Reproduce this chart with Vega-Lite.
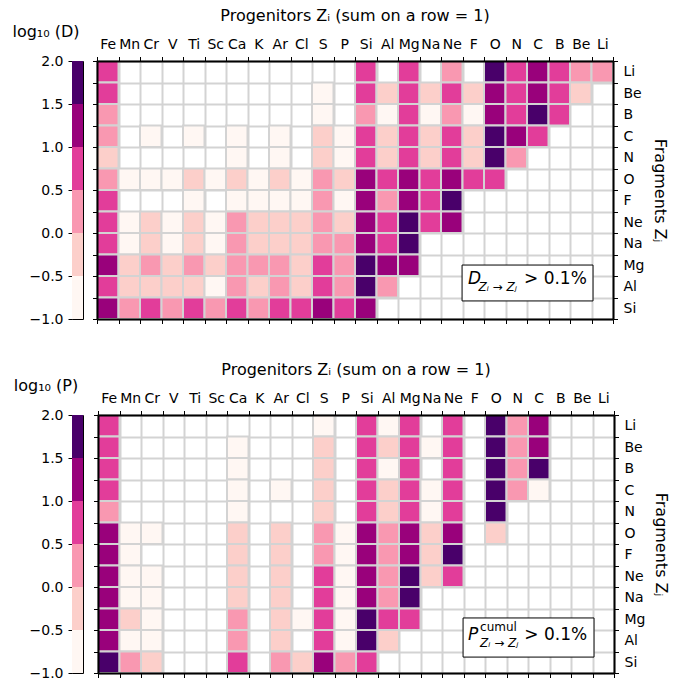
{
"$schema": "https://vega.github.io/schema/vega-lite/v6.json",
"padding": {"left": 11, "top": 7, "right": 5, "bottom": 5},
"datasets": {
"bins": [{"lo":-1,"hi":-0.5},{"lo":-0.5,"hi":0},{"lo":0,"hi":0.5},{"lo":0.5,"hi":1},{"lo":1,"hi":1.5},{"lo":1.5,"hi":2}],
"D": [
{"f":"Li","p":"Fe","v":0.75},{"f":"Li","p":"Si","v":0.75},{"f":"Li","p":"Mg","v":0.75},{"f":"Li","p":"Ne","v":0.25},{"f":"Li","p":"O","v":1.75},{"f":"Li","p":"N","v":0.75},{"f":"Li","p":"C","v":1.25},{"f":"Li","p":"B","v":0.75},{"f":"Li","p":"Be","v":0.25},{"f":"Li","p":"Li","v":0.25},
{"f":"Be","p":"Fe","v":0.75},{"f":"Be","p":"S","v":-0.75},{"f":"Be","p":"Si","v":0.75},{"f":"Be","p":"Al","v":-0.25},{"f":"Be","p":"Mg","v":0.75},{"f":"Be","p":"Na","v":-0.25},{"f":"Be","p":"Ne","v":0.75},{"f":"Be","p":"F","v":-0.25},{"f":"Be","p":"O","v":1.25},{"f":"Be","p":"N","v":0.75},{"f":"Be","p":"C","v":1.25},{"f":"Be","p":"B","v":0.75},{"f":"Be","p":"Be","v":-0.25},
{"f":"B","p":"Fe","v":0.25},{"f":"B","p":"S","v":-0.75},{"f":"B","p":"Si","v":0.25},{"f":"B","p":"Al","v":-0.75},{"f":"B","p":"Mg","v":0.75},{"f":"B","p":"Na","v":-0.75},{"f":"B","p":"Ne","v":0.25},{"f":"B","p":"F","v":-0.75},{"f":"B","p":"O","v":1.25},{"f":"B","p":"N","v":0.75},{"f":"B","p":"C","v":1.75},{"f":"B","p":"B","v":0.75},
{"f":"C","p":"Fe","v":0.25},{"f":"C","p":"Cr","v":-0.75},{"f":"C","p":"Ti","v":-0.75},{"f":"C","p":"Ca","v":-0.75},{"f":"C","p":"Ar","v":-0.75},{"f":"C","p":"S","v":-0.25},{"f":"C","p":"P","v":-0.75},{"f":"C","p":"Si","v":0.75},{"f":"C","p":"Al","v":-0.25},{"f":"C","p":"Mg","v":0.75},{"f":"C","p":"Na","v":-0.25},{"f":"C","p":"Ne","v":0.75},{"f":"C","p":"F","v":-0.25},{"f":"C","p":"O","v":1.75},{"f":"C","p":"N","v":1.25},{"f":"C","p":"C","v":0.75},
{"f":"N","p":"Fe","v":-0.25},{"f":"N","p":"Ca","v":-0.75},{"f":"N","p":"Ar","v":-0.75},{"f":"N","p":"S","v":-0.25},{"f":"N","p":"P","v":-0.75},{"f":"N","p":"Si","v":0.75},{"f":"N","p":"Al","v":-0.25},{"f":"N","p":"Mg","v":0.75},{"f":"N","p":"Na","v":-0.25},{"f":"N","p":"Ne","v":0.75},{"f":"N","p":"F","v":-0.25},{"f":"N","p":"O","v":1.75},{"f":"N","p":"N","v":0.25},
{"f":"O","p":"Fe","v":0.25},{"f":"O","p":"Mn","v":-0.75},{"f":"O","p":"Cr","v":-0.75},{"f":"O","p":"V","v":-0.75},{"f":"O","p":"Ti","v":-0.25},{"f":"O","p":"Sc","v":-0.75},{"f":"O","p":"Ca","v":-0.25},{"f":"O","p":"K","v":-0.75},{"f":"O","p":"Ar","v":-0.25},{"f":"O","p":"Cl","v":-0.75},{"f":"O","p":"S","v":0.25},{"f":"O","p":"P","v":-0.25},{"f":"O","p":"Si","v":1.25},{"f":"O","p":"Al","v":0.75},{"f":"O","p":"Mg","v":1.25},{"f":"O","p":"Na","v":0.75},{"f":"O","p":"Ne","v":1.25},{"f":"O","p":"F","v":0.75},{"f":"O","p":"O","v":0.75},
{"f":"F","p":"Fe","v":0.75},{"f":"F","p":"Ti","v":-0.75},{"f":"F","p":"Ca","v":-0.75},{"f":"F","p":"K","v":-0.75},{"f":"F","p":"Ar","v":-0.75},{"f":"F","p":"Cl","v":-0.75},{"f":"F","p":"S","v":0.25},{"f":"F","p":"P","v":-0.75},{"f":"F","p":"Si","v":1.25},{"f":"F","p":"Al","v":0.25},{"f":"F","p":"Mg","v":1.25},{"f":"F","p":"Na","v":0.75},{"f":"F","p":"Ne","v":1.75},
{"f":"Ne","p":"Fe","v":0.75},{"f":"Ne","p":"Mn","v":-0.75},{"f":"Ne","p":"Cr","v":-0.25},{"f":"Ne","p":"V","v":-0.75},{"f":"Ne","p":"Ti","v":-0.25},{"f":"Ne","p":"Sc","v":-0.75},{"f":"Ne","p":"Ca","v":0.25},{"f":"Ne","p":"K","v":-0.25},{"f":"Ne","p":"Ar","v":-0.25},{"f":"Ne","p":"Cl","v":-0.25},{"f":"Ne","p":"S","v":0.25},{"f":"Ne","p":"P","v":-0.25},{"f":"Ne","p":"Si","v":1.25},{"f":"Ne","p":"Al","v":0.75},{"f":"Ne","p":"Mg","v":1.75},{"f":"Ne","p":"Na","v":0.75},{"f":"Ne","p":"Ne","v":1.25},
{"f":"Na","p":"Fe","v":0.75},{"f":"Na","p":"Mn","v":-0.75},{"f":"Na","p":"Cr","v":-0.25},{"f":"Na","p":"V","v":-0.75},{"f":"Na","p":"Ti","v":-0.25},{"f":"Na","p":"Sc","v":-0.75},{"f":"Na","p":"Ca","v":0.25},{"f":"Na","p":"K","v":-0.25},{"f":"Na","p":"Ar","v":-0.25},{"f":"Na","p":"Cl","v":-0.25},{"f":"Na","p":"S","v":0.25},{"f":"Na","p":"P","v":0.25},{"f":"Na","p":"Si","v":1.25},{"f":"Na","p":"Al","v":0.75},{"f":"Na","p":"Mg","v":1.75},
{"f":"Mg","p":"Fe","v":1.25},{"f":"Mg","p":"Mn","v":-0.25},{"f":"Mg","p":"Cr","v":0.25},{"f":"Mg","p":"V","v":-0.25},{"f":"Mg","p":"Ti","v":0.25},{"f":"Mg","p":"Sc","v":-0.25},{"f":"Mg","p":"Ca","v":0.25},{"f":"Mg","p":"K","v":0.25},{"f":"Mg","p":"Ar","v":0.25},{"f":"Mg","p":"Cl","v":-0.25},{"f":"Mg","p":"S","v":0.75},{"f":"Mg","p":"P","v":0.25},{"f":"Mg","p":"Si","v":1.75},{"f":"Mg","p":"Al","v":1.25},{"f":"Mg","p":"Mg","v":1.25},
{"f":"Al","p":"Fe","v":0.75},{"f":"Al","p":"Mn","v":-0.25},{"f":"Al","p":"Cr","v":-0.25},{"f":"Al","p":"V","v":-0.25},{"f":"Al","p":"Ti","v":-0.25},{"f":"Al","p":"Sc","v":-0.75},{"f":"Al","p":"Ca","v":0.25},{"f":"Al","p":"K","v":-0.25},{"f":"Al","p":"Ar","v":0.25},{"f":"Al","p":"Cl","v":-0.25},{"f":"Al","p":"S","v":0.75},{"f":"Al","p":"P","v":0.25},{"f":"Al","p":"Si","v":1.75},{"f":"Al","p":"Al","v":0.25},
{"f":"Si","p":"Fe","v":1.25},{"f":"Si","p":"Mn","v":0.25},{"f":"Si","p":"Cr","v":0.75},{"f":"Si","p":"V","v":0.25},{"f":"Si","p":"Ti","v":0.75},{"f":"Si","p":"Sc","v":0.25},{"f":"Si","p":"Ca","v":0.75},{"f":"Si","p":"K","v":0.25},{"f":"Si","p":"Ar","v":0.75},{"f":"Si","p":"Cl","v":0.75},{"f":"Si","p":"S","v":1.25},{"f":"Si","p":"P","v":0.75},{"f":"Si","p":"Si","v":1.25}
],
"P": [
{"f":"Li","p":"Fe","v":0.75},{"f":"Li","p":"S","v":-0.75},{"f":"Li","p":"Si","v":0.75},{"f":"Li","p":"Al","v":-0.75},{"f":"Li","p":"Mg","v":0.75},{"f":"Li","p":"Ne","v":0.75},{"f":"Li","p":"O","v":1.75},{"f":"Li","p":"N","v":0.25},{"f":"Li","p":"C","v":1.25},
{"f":"Be","p":"Fe","v":0.75},{"f":"Be","p":"Ca","v":-0.75},{"f":"Be","p":"S","v":-0.25},{"f":"Be","p":"Si","v":0.75},{"f":"Be","p":"Al","v":-0.25},{"f":"Be","p":"Mg","v":0.75},{"f":"Be","p":"Na","v":-0.75},{"f":"Be","p":"Ne","v":0.75},{"f":"Be","p":"O","v":1.75},{"f":"Be","p":"N","v":0.25},{"f":"Be","p":"C","v":1.25},
{"f":"B","p":"Fe","v":0.75},{"f":"B","p":"Ca","v":-0.75},{"f":"B","p":"S","v":-0.25},{"f":"B","p":"Si","v":0.75},{"f":"B","p":"Al","v":-0.75},{"f":"B","p":"Mg","v":0.75},{"f":"B","p":"Ne","v":0.75},{"f":"B","p":"O","v":1.75},{"f":"B","p":"N","v":0.25},{"f":"B","p":"C","v":1.75},
{"f":"C","p":"Fe","v":0.75},{"f":"C","p":"Ca","v":-0.75},{"f":"C","p":"Ar","v":-0.75},{"f":"C","p":"S","v":-0.25},{"f":"C","p":"Si","v":0.75},{"f":"C","p":"Al","v":-0.25},{"f":"C","p":"Mg","v":0.75},{"f":"C","p":"Na","v":-0.75},{"f":"C","p":"Ne","v":0.75},{"f":"C","p":"O","v":1.75},{"f":"C","p":"N","v":0.25},{"f":"C","p":"C","v":-0.75},
{"f":"N","p":"Fe","v":0.25},{"f":"N","p":"Ca","v":-0.75},{"f":"N","p":"S","v":-0.25},{"f":"N","p":"Si","v":0.75},{"f":"N","p":"Al","v":-0.25},{"f":"N","p":"Mg","v":0.75},{"f":"N","p":"Na","v":-0.75},{"f":"N","p":"Ne","v":0.75},{"f":"N","p":"O","v":1.75},
{"f":"O","p":"Fe","v":1.25},{"f":"O","p":"Mn","v":-0.75},{"f":"O","p":"Cr","v":-0.75},{"f":"O","p":"Ca","v":-0.25},{"f":"O","p":"Ar","v":-0.25},{"f":"O","p":"S","v":0.25},{"f":"O","p":"P","v":-0.75},{"f":"O","p":"Si","v":1.25},{"f":"O","p":"Al","v":0.25},{"f":"O","p":"Mg","v":1.25},{"f":"O","p":"Na","v":-0.25},{"f":"O","p":"Ne","v":1.25},{"f":"O","p":"O","v":-0.25},
{"f":"F","p":"Fe","v":1.25},{"f":"F","p":"Mn","v":-0.75},{"f":"F","p":"Ca","v":-0.25},{"f":"F","p":"Ar","v":-0.25},{"f":"F","p":"S","v":0.25},{"f":"F","p":"P","v":-0.75},{"f":"F","p":"Si","v":1.25},{"f":"F","p":"Al","v":0.25},{"f":"F","p":"Mg","v":1.25},{"f":"F","p":"Na","v":-0.25},{"f":"F","p":"Ne","v":1.75},
{"f":"Ne","p":"Fe","v":1.25},{"f":"Ne","p":"Mn","v":-0.75},{"f":"Ne","p":"Cr","v":-0.75},{"f":"Ne","p":"Ca","v":-0.25},{"f":"Ne","p":"Ar","v":-0.25},{"f":"Ne","p":"S","v":0.75},{"f":"Ne","p":"P","v":-0.75},{"f":"Ne","p":"Si","v":1.25},{"f":"Ne","p":"Al","v":0.25},{"f":"Ne","p":"Mg","v":1.75},{"f":"Ne","p":"Na","v":-0.25},{"f":"Ne","p":"Ne","v":0.75},
{"f":"Na","p":"Fe","v":1.25},{"f":"Na","p":"Mn","v":-0.75},{"f":"Na","p":"Cr","v":-0.75},{"f":"Na","p":"Ca","v":-0.25},{"f":"Na","p":"Ar","v":-0.25},{"f":"Na","p":"S","v":0.75},{"f":"Na","p":"P","v":-0.75},{"f":"Na","p":"Si","v":1.25},{"f":"Na","p":"Al","v":0.25},{"f":"Na","p":"Mg","v":1.75},
{"f":"Mg","p":"Fe","v":1.25},{"f":"Mg","p":"Mn","v":-0.25},{"f":"Mg","p":"Cr","v":-0.75},{"f":"Mg","p":"Ca","v":0.25},{"f":"Mg","p":"Ar","v":-0.25},{"f":"Mg","p":"Cl","v":-0.75},{"f":"Mg","p":"S","v":0.75},{"f":"Mg","p":"P","v":-0.75},{"f":"Mg","p":"Si","v":1.75},{"f":"Mg","p":"Al","v":0.75},{"f":"Mg","p":"Mg","v":0.75},
{"f":"Al","p":"Fe","v":1.25},{"f":"Al","p":"Mn","v":-0.75},{"f":"Al","p":"Cr","v":-0.75},{"f":"Al","p":"Ca","v":0.25},{"f":"Al","p":"Ar","v":-0.25},{"f":"Al","p":"S","v":0.75},{"f":"Al","p":"P","v":-0.75},{"f":"Al","p":"Si","v":1.75},{"f":"Al","p":"Al","v":-0.25},
{"f":"Si","p":"Fe","v":1.75},{"f":"Si","p":"Mn","v":0.25},{"f":"Si","p":"Cr","v":-0.25},{"f":"Si","p":"Ca","v":0.75},{"f":"Si","p":"Ar","v":0.25},{"f":"Si","p":"Cl","v":-0.25},{"f":"Si","p":"S","v":1.25},{"f":"Si","p":"P","v":0.25},{"f":"Si","p":"Si","v":0.75}
]
},
"vconcat": [
{
"bounds": "flush",
"spacing": 14,
"hconcat": [
{
"width": 11, "height": 258,
"title": {"text": "log₁₀ (D)", "fontSize": 16, "frame": "bounds", "anchor": "middle", "offset": 14, "dx": -10},
"data": {"name": "bins"},
"mark": {"type": "rect"},
"encoding": {
"y": {"field": "lo", "type": "quantitative", "scale": {"domain": [-1, 2], "nice": false, "zero": false}, "axis": {"values": [-1, -0.5, 0, 0.5, 1, 1.5, 2], "format": ".1f", "title": null, "grid": false, "domain": false, "tickSize": 4, "labelPadding": 5, "labelFlush": false, "labelOverlap": false}},
"y2": {"field": "hi"},
"color": {"field": "lo", "type": "quantitative", "scale": {"type": "threshold", "domain": [-0.5, 0, 0.5, 1, 1.5], "range": ["#fff7f3", "#fccfca", "#f998b1", "#e23d9a", "#99017b", "#49006a"]}, "legend": null}
}
},
{
"width": 516, "height": 258,
"title": {"text": "Progenitors Zᵢ (sum on a row = 1)", "fontSize": 16, "frame": "group", "anchor": "middle", "offset": 13},
"resolve": {"scale": {"x": "independent", "y": "independent"}, "axis": {"x": "independent", "y": "independent"}},
"layer": [
{
"data": {"name": "D"},
"mark": {"type": "rect", "stroke": "#d3d3d3", "strokeWidth": 2},
"encoding": {
"x": {"field": "p", "type": "nominal", "scale": {"domain": ["Fe","Mn","Cr","V","Ti","Sc","Ca","K","Ar","Cl","S","P","Si","Al","Mg","Na","Ne","F","O","N","C","B","Be","Li"], "paddingInner": 0, "paddingOuter": 0}, "axis": {"orient": "top", "title": null, "labelAngle": 0, "labelOverlap": false, "labelBound": false, "tickBand": "extent", "tickSize": 4.5, "labelPadding": 5.5, "grid": false, "domain": true, "zindex": 1}},
"y": {"field": "f", "type": "nominal", "scale": {"domain": ["Li","Be","B","C","N","O","F","Ne","Na","Mg","Al","Si"], "paddingInner": 0, "paddingOuter": 0}, "axis": {"orient": "right", "title": "Fragments Zⱼ", "titleFontSize": 16, "titlePadding": 8, "labelOverlap": false, "labelBound": false, "tickBand": "extent", "tickSize": 4.5, "labelPadding": 5.5, "grid": false, "domain": true, "zindex": 1}},
"color": {"field": "v", "type": "quantitative", "scale": {"type": "threshold", "domain": [-0.5, 0, 0.5, 1, 1.5], "range": ["#fff7f3", "#fccfca", "#f998b1", "#e23d9a", "#99017b", "#49006a"]}, "legend": null}
}
},
{
"data": {"name": "D"},
"mark": {"type": "rect", "opacity": 0},
"encoding": {
"x": {"field": "p", "type": "nominal", "scale": {"domain": ["Fe","Mn","Cr","V","Ti","Sc","Ca","K","Ar","Cl","S","P","Si","Al","Mg","Na","Ne","F","O","N","C","B","Be","Li"], "paddingInner": 0, "paddingOuter": 0}, "axis": {"orient": "bottom", "title": null, "labels": false, "tickBand": "extent", "tickSize": 4.5, "grid": false, "domain": true, "zindex": 1}},
"y": {"field": "f", "type": "nominal", "scale": {"domain": ["Li","Be","B","C","N","O","F","Ne","Na","Mg","Al","Si"], "paddingInner": 0, "paddingOuter": 0}, "axis": {"orient": "left", "title": null, "labels": false, "tickBand": "extent", "tickSize": 4.5, "grid": false, "domain": true, "zindex": 1}}
}
},
{
"data": {"name": "D"},
"mark": {"type": "rect", "opacity": 0},
"encoding": {
"x": {"field": "p", "type": "nominal", "scale": {"domain": ["Fe","Mn","Cr","V","Ti","Sc","Ca","K","Ar","Cl","S","P","Si","Al","Mg","Na","Ne","F","O","N","C","B","Be","Li"], "paddingInner": 0, "paddingOuter": 0}, "axis": {"orient": "bottom", "title": null, "labels": false, "ticks": false, "domain": false, "tickBand": "extent", "grid": true, "gridColor": "#d3d3d3", "gridWidth": 2, "zindex": 0}},
"y": {"field": "f", "type": "nominal", "scale": {"domain": ["Li","Be","B","C","N","O","F","Ne","Na","Mg","Al","Si"], "paddingInner": 0, "paddingOuter": 0}, "axis": {"orient": "left", "title": null, "labels": false, "ticks": false, "domain": false, "tickBand": "extent", "grid": true, "gridColor": "#d3d3d3", "gridWidth": 2, "zindex": 0}}
}
},
{
"data": {"values": [{}]},
"layer": [
{"mark": {"type": "rect", "fill": "#ffffff", "stroke": "#000000", "strokeWidth": 1},
 "encoding": {"x": {"datum": 16.98, "type": "quantitative", "scale": {"domain": [0, 24], "nice": false, "zero": false}, "axis": null}, "x2": {"datum": 23.07}, "y": {"datum": 9.49, "type": "quantitative", "scale": {"domain": [0, 12], "reverse": true, "nice": false, "zero": false}, "axis": null}, "y2": {"datum": 11.16}}},
{"mark": {"type": "text", "text": "D", "fontSize": 17, "fontStyle": "italic", "align": "left", "baseline": "alphabetic"},
 "encoding": {"x": {"datum": 17.26, "type": "quantitative"}, "y": {"datum": 10.37, "type": "quantitative"}}},
{"mark": {"type": "text", "text": "Zᵢ → Zⱼ", "fontSize": 12, "fontStyle": "italic", "align": "left", "baseline": "alphabetic"},
 "encoding": {"x": {"datum": 17.74, "type": "quantitative"}, "y": {"datum": 10.7, "type": "quantitative"}}},
{"mark": {"type": "text", "text": "> 0.1%", "fontSize": 17, "align": "left", "baseline": "alphabetic"},
 "encoding": {"x": {"datum": 19.86, "type": "quantitative"}, "y": {"datum": 10.37, "type": "quantitative"}}}
]
}
]
}
]
},
{
"bounds": "flush",
"spacing": 15,
"hconcat": [
{
"width": 11, "height": 258,
"title": {"text": "log₁₀ (P)", "fontSize": 16, "frame": "bounds", "anchor": "middle", "offset": 14, "dx": -10},
"data": {"name": "bins"},
"mark": {"type": "rect"},
"encoding": {
"y": {"field": "lo", "type": "quantitative", "scale": {"domain": [-1, 2], "nice": false, "zero": false}, "axis": {"values": [-1, -0.5, 0, 0.5, 1, 1.5, 2], "format": ".1f", "title": null, "grid": false, "domain": false, "tickSize": 4, "labelPadding": 5, "labelFlush": false, "labelOverlap": false}},
"y2": {"field": "hi"},
"color": {"field": "lo", "type": "quantitative", "scale": {"type": "threshold", "domain": [-0.5, 0, 0.5, 1, 1.5], "range": ["#fff7f3", "#fccfca", "#f998b1", "#e23d9a", "#99017b", "#49006a"]}, "legend": null}
}
},
{
"width": 516, "height": 258,
"title": {"text": "Progenitors Zᵢ (sum on a row = 1)", "fontSize": 16, "frame": "group", "anchor": "middle", "offset": 13},
"resolve": {"scale": {"x": "independent", "y": "independent"}, "axis": {"x": "independent", "y": "independent"}},
"layer": [
{
"data": {"name": "P"},
"mark": {"type": "rect", "stroke": "#d3d3d3", "strokeWidth": 2},
"encoding": {
"x": {"field": "p", "type": "nominal", "scale": {"domain": ["Fe","Mn","Cr","V","Ti","Sc","Ca","K","Ar","Cl","S","P","Si","Al","Mg","Na","Ne","F","O","N","C","B","Be","Li"], "paddingInner": 0, "paddingOuter": 0}, "axis": {"orient": "top", "title": null, "labelAngle": 0, "labelOverlap": false, "labelBound": false, "tickBand": "extent", "tickSize": 4.5, "labelPadding": 5.5, "grid": false, "domain": true, "zindex": 1}},
"y": {"field": "f", "type": "nominal", "scale": {"domain": ["Li","Be","B","C","N","O","F","Ne","Na","Mg","Al","Si"], "paddingInner": 0, "paddingOuter": 0}, "axis": {"orient": "right", "title": "Fragments Zⱼ", "titleFontSize": 16, "titlePadding": 8, "labelOverlap": false, "labelBound": false, "tickBand": "extent", "tickSize": 4.5, "labelPadding": 5.5, "grid": false, "domain": true, "zindex": 1}},
"color": {"field": "v", "type": "quantitative", "scale": {"type": "threshold", "domain": [-0.5, 0, 0.5, 1, 1.5], "range": ["#fff7f3", "#fccfca", "#f998b1", "#e23d9a", "#99017b", "#49006a"]}, "legend": null}
}
},
{
"data": {"name": "P"},
"mark": {"type": "rect", "opacity": 0},
"encoding": {
"x": {"field": "p", "type": "nominal", "scale": {"domain": ["Fe","Mn","Cr","V","Ti","Sc","Ca","K","Ar","Cl","S","P","Si","Al","Mg","Na","Ne","F","O","N","C","B","Be","Li"], "paddingInner": 0, "paddingOuter": 0}, "axis": {"orient": "bottom", "title": null, "labels": false, "tickBand": "extent", "tickSize": 4.5, "grid": false, "domain": true, "zindex": 1}},
"y": {"field": "f", "type": "nominal", "scale": {"domain": ["Li","Be","B","C","N","O","F","Ne","Na","Mg","Al","Si"], "paddingInner": 0, "paddingOuter": 0}, "axis": {"orient": "left", "title": null, "labels": false, "tickBand": "extent", "tickSize": 4.5, "grid": false, "domain": true, "zindex": 1}}
}
},
{
"data": {"name": "P"},
"mark": {"type": "rect", "opacity": 0},
"encoding": {
"x": {"field": "p", "type": "nominal", "scale": {"domain": ["Fe","Mn","Cr","V","Ti","Sc","Ca","K","Ar","Cl","S","P","Si","Al","Mg","Na","Ne","F","O","N","C","B","Be","Li"], "paddingInner": 0, "paddingOuter": 0}, "axis": {"orient": "bottom", "title": null, "labels": false, "ticks": false, "domain": false, "tickBand": "extent", "grid": true, "gridColor": "#d3d3d3", "gridWidth": 2, "zindex": 0}},
"y": {"field": "f", "type": "nominal", "scale": {"domain": ["Li","Be","B","C","N","O","F","Ne","Na","Mg","Al","Si"], "paddingInner": 0, "paddingOuter": 0}, "axis": {"orient": "left", "title": null, "labels": false, "ticks": false, "domain": false, "tickBand": "extent", "grid": true, "gridColor": "#d3d3d3", "gridWidth": 2, "zindex": 0}}
}
},
{
"data": {"values": [{}]},
"layer": [
{"mark": {"type": "rect", "fill": "#ffffff", "stroke": "#000000", "strokeWidth": 1},
 "encoding": {"x": {"datum": 16.98, "type": "quantitative", "scale": {"domain": [0, 24], "nice": false, "zero": false}, "axis": null}, "x2": {"datum": 23.07}, "y": {"datum": 9.44, "type": "quantitative", "scale": {"domain": [0, 12], "reverse": true, "nice": false, "zero": false}, "axis": null}, "y2": {"datum": 11.26}}},
{"mark": {"type": "text", "text": "P", "fontSize": 17, "fontStyle": "italic", "align": "left", "baseline": "alphabetic"},
 "encoding": {"x": {"datum": 17.21, "type": "quantitative"}, "y": {"datum": 10.47, "type": "quantitative"}}},
{"mark": {"type": "text", "text": "cumul", "fontSize": 12, "align": "left", "baseline": "alphabetic"},
 "encoding": {"x": {"datum": 17.77, "type": "quantitative"}, "y": {"datum": 10.05, "type": "quantitative"}}},
{"mark": {"type": "text", "text": "Zᵢ → Zⱼ", "fontSize": 12, "fontStyle": "italic", "align": "left", "baseline": "alphabetic"},
 "encoding": {"x": {"datum": 17.77, "type": "quantitative"}, "y": {"datum": 10.79, "type": "quantitative"}}},
{"mark": {"type": "text", "text": "> 0.1%", "fontSize": 17, "align": "left", "baseline": "alphabetic"},
 "encoding": {"x": {"datum": 19.83, "type": "quantitative"}, "y": {"datum": 10.47, "type": "quantitative"}}}
]
}
]
}
]
}
],
"spacing": 34,
"config": {
"font": "DejaVu Sans",
"view": {"stroke": "#000000", "strokeWidth": 1},
"axis": {"labelFont": "DejaVu Sans", "labelFontSize": 14, "labelColor": "#000000", "titleFont": "DejaVu Sans", "titleFontSize": 16, "titleFontWeight": "normal", "titleColor": "#000000", "tickColor": "#000000", "domainColor": "#000000", "tickWidth": 1, "domainWidth": 2},
"title": {"font": "DejaVu Sans", "fontWeight": "normal", "color": "#000000"},
"text": {"font": "DejaVu Sans", "color": "#000000"}
}
}
